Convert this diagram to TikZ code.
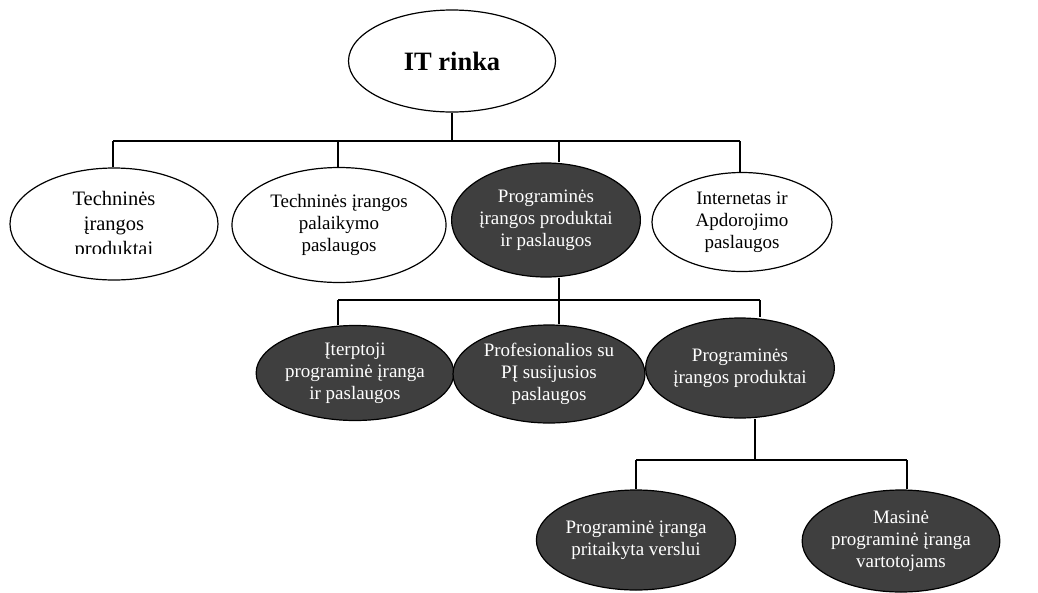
\documentclass[tikz,border=0pt]{standalone}
\usepackage{fontspec}
\setmainfont{Liberation Serif}
\usetikzlibrary{shapes.geometric}
\definecolor{darkfill}{RGB}{63,63,63}
\tikzset{
  oval/.style={ellipse, draw=black, line width=1.2pt, inner sep=0pt,
    align=center, font=\fontsize{19}{21.8}\selectfont},
  lightoval/.style={oval, fill=white, text=black},
  darkoval/.style={oval, fill=darkfill, text=white},
  link/.style={draw=black, line width=1.6pt},
}
\begin{document}
\begin{tikzpicture}[x=1pt, y=-1pt]
\useasboundingbox (0,0) rectangle (1038,592);

% root
\node[lightoval, minimum width=207, minimum height=102,
      font=\fontsize{26.5}{30}\selectfont\bfseries] (root) at (452,61) {IT rinka};

% first level
\node[lightoval, minimum width=208, minimum height=112] (e1) at (114,224) {};
\begin{scope}
  \clip (0,150) rectangle (230,253);
  \node[align=center, inner sep=0pt, font=\fontsize{20.5}{25}\selectfont]
    (e1txt) at (114,226) {Techninės\\įrangos\\produktai};
\end{scope}
\node[lightoval, minimum width=214, minimum height=115] (e2) at (339,225)
  {Techninės įrangos\\palaikymo\\paslaugos};
\node[darkoval, minimum width=182, minimum height=114] (e3) at (546,220)
  {Programinės\\įrangos produktai\\ir paslaugos};
\node[lightoval, minimum width=180, minimum height=99] (e4) at (742,222)
  {Internetas ir\\Apdorojimo\\paslaugos};

% second level
\node[darkoval, minimum width=185, minimum height=95] (e5) at (355,373)
  {Įterptoji\\programinė įranga\\ir paslaugos};
\node[darkoval, minimum width=192, minimum height=98] (e6) at (549,374)
  {Profesionalios su\\PĮ susijusios\\paslaugos};
\node[darkoval, minimum width=184, minimum height=100] (e7) at (740,368)
  {Programinės\\įrangos produktai};

% third level
\node[darkoval, minimum width=192, minimum height=100] (e8) at (636,540)
  {Programinė įranga\\pritaikyta verslui};
\node[darkoval, minimum width=182, minimum height=102] (e9) at (901,541)
  {Masinė\\programinė įranga\\vartotojams};

% junctions and drop points of the tree
\coordinate (j1) at (452,141);
\coordinate (d1) at (113,141);
\coordinate (d2) at (338,141);
\coordinate (d3) at (559,141);
\coordinate (d4) at (740,141);
\coordinate (j2) at (559,300);
\coordinate (d5) at (338,300);
\coordinate (d7) at (760,300);
\coordinate (j3) at (755,460);
\coordinate (d8) at (636,460);
\coordinate (d9) at (907,460);

% connectors
\draw[link] (root.south) -- (j1);
\draw[link] (d1) -- (d4);
\draw[link] (d1) -- (d1 |- e1.north);
\draw[link] (d2) -- (d2 |- e2.north);
\draw[link] (d3) -- (d3 |- e3.north);
\draw[link] (d4) -- (d4 |- e4.north);

\draw[link] (j2 |- e3.south) -- (j2 |- e6.north);
\draw[link] (d5) -- (d7);
\draw[link] (d5) -- (d5 |- e5.north);
\draw[link] (d7) -- (d7 |- e7.north);

\draw[link] (j3 |- e7.south) -- (j3);
\draw[link] (d8) -- (d9);
\draw[link] (d8) -- (d8 |- e8.north);
\draw[link] (d9) -- (d9 |- e9.north);
\end{tikzpicture}
\end{document}
